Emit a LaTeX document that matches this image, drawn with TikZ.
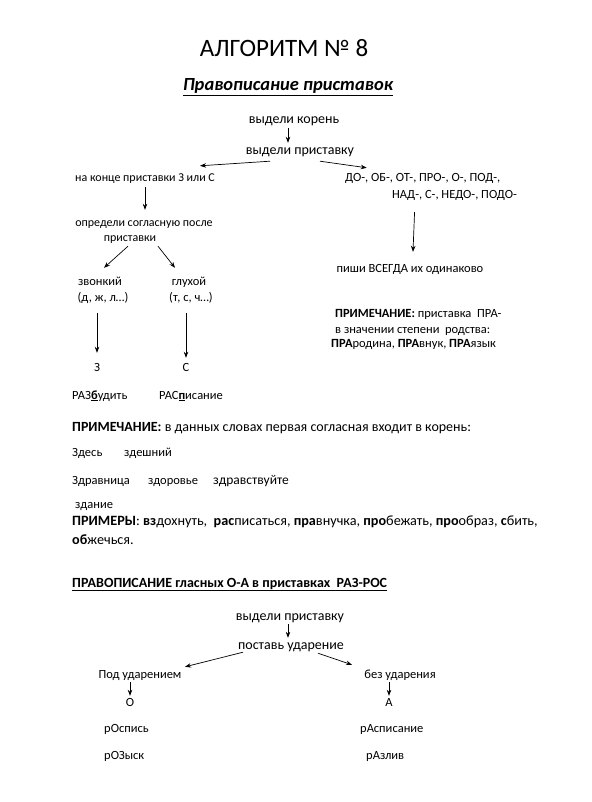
\documentclass[tikz,border=0pt]{standalone}
\usepackage{fontspec}
\setmainfont{Carlito}
\usetikzlibrary{arrows.meta}
\tikzset{
  base/.style={inner sep=0pt, anchor=base, text height=9pt, text depth=3pt},
  big/.style={base, font=\fontsize{14}{16}\selectfont},
  mid/.style={base, font=\fontsize{12.5}{15}\selectfont},
  lbig/.style={big, anchor=base west},
  lmid/.style={mid, anchor=base west},
  arr/.style={-{Stealth[length=6pt,width=4.5pt]}, line width=0.7pt},
}
\begin{document}
\begin{tikzpicture}[x=1pt,y=-1pt]
\useasboundingbox (0,0) rectangle (591,802);
% titles
\node[inner sep=0pt, font=\fontsize{25}{30}\selectfont] (title) at (284,48) {АЛГОРИТМ № 8};
\node[inner sep=0pt, font=\fontsize{18.5}{22}\selectfont\bfseries\itshape] (sub) at (288,87) {\underline{Правописание приставок}};
% top chain
\node[big] (k1) at (294,124) {выдели корень};
\node[big] (k2) at (300,155) {выдели приставку};
\draw[arr] ([shift={(-6,1)}]k1.south) -- ([shift={(-12,-3)}]k2.north);
% branches
\node[mid, font=\fontsize{12}{15}\selectfont] (l1) at (145,182) {на конце приставки З или С};
\node[lmid] (r1a) at (345,182) {ДО-, ОБ-, ОТ-, ПРО-, О-, ПОД-,};
\node[lmid] (r1b) at (392,199) {НАД-, С-, НЕДО-, ПОДО-};
\draw[arr] ([shift={(-30,3)}]k2.south) -- ([shift={(55,-7)}]l1.north);
\draw[arr] ([shift={(20,3)}]k2.south) -- ([shift={(-56,-5)}]r1a.north);
% left chain
\node[mid, font=\fontsize{12}{15}\selectfont] (l2a) at (144,226) {определи согласную после};
\node[mid, font=\fontsize{12}{15}\selectfont] (l2b) at (130,241) {приставки};
\draw[arr] ([shift={(0,2)}]l1.south) -- ([shift={(1,-7)}]l2a.north);
\node[mid] (zv) at (100,285) {звонкий};
\node[mid] (zv2) at (103,301) {(д, ж, л…)};
\node[mid] (gl) at (189,285) {глухой};
\node[mid] (gl2) at (191,301) {(т, с, ч…)};
\draw[arr] ([shift={(-2,2)}]l2b.south) -- ([shift={(4,-8)}]zv.north);
\draw[arr] ([shift={(28,2)}]l2b.south) -- ([shift={(-14,-8)}]gl.north);
\node[mid] (z) at (97,371) {З};
\node[mid] (s) at (186,371) {С};
\draw[arr] ([shift={(-6,9)}]zv2.south) -- ([shift={(0,-9)}]z.north);
\draw[arr] ([shift={(-5,9)}]gl2.south) -- ([shift={(0,-4)}]s.north);
\node[lmid] (ex1) at (72,399) {РАЗ\underline{\textbf{б}}удить};
\node[lmid] (ex2) at (159,399) {РАС\underline{\textbf{п}}исание};
% right chain
\node[mid] (pis) at (410,272) {пиши ВСЕГДА их одинаково};
\draw[arr] ([shift={(-40,10)}]r1b.south) -- ([shift={(3,-11)}]pis.north);
\node[lmid] (n1a) at (335,317) {\textbf{ПРИМЕЧАНИЕ:} приставка\ \ ПРА-};
\node[lmid] (n1b) at (335,333) {в значении степени\ \ родства:};
\node[lmid] (n1c) at (331,347) {\textbf{ПРА}родина, \textbf{ПРА}внук, \textbf{ПРА}язык};
% note 2
\node[lbig] (n2) at (72,431) {\textbf{ПРИМЕЧАНИЕ:} в данных словах первая согласная входит в корень:};
\node[lmid] (w1) at (72,456) {Здесь};
\node[lmid] (w2) at (124,456) {здешний};
\node[lmid] (w3) at (72,484) {Здравница};
\node[lmid] (w4) at (148,484) {здоровье};
\node[lmid, font=\fontsize{13.5}{15}\selectfont] (w5) at (213,484) {здравствуйте};
\node[lmid] (w6) at (75,508) {здание};
\node[lbig, font=\fontsize{14.2}{16}\selectfont] (pr1) at (72,525) {\textbf{ПРИМЕРЫ}: \textbf{вз}дохнуть,\ \ \textbf{рас}писаться, \textbf{пра}внучка, \textbf{про}бежать, \textbf{про}образ, \textbf{с}бить,};
\node[lbig, font=\fontsize{14.2}{16}\selectfont] (pr2) at (72,544) {\textbf{об}жечься.};
% section 2
\node[lbig, font=\fontsize{14}{16}\selectfont\bfseries] (h2) at (72,587) {\underline{ПРАВОПИСАНИЕ гласных О-А в приставках\ \ РАЗ-РОС}};
\node[big] (m1) at (290,620) {выдели приставку};
\node[big] (m2) at (291,649) {поставь ударение};
\draw[arr] ([shift={(-2,1)}]m1.south) -- ([shift={(-3,-2)}]m2.north);
\node[mid] (pu) at (140,678) {Под ударением};
\node[mid] (bu) at (400,678) {без ударения};
\draw[arr] ([shift={(-48,0)}]m2.south) -- ([shift={(45,-2)}]pu.north);
\draw[arr] ([shift={(27,1)}]m2.south) -- ([shift={(-48,-4)}]bu.north);
\node[mid] (o) at (130,706) {О};
\node[mid] (a) at (389,706) {А};
\draw[arr] ([shift={(-10,1)}]pu.south) -- ([shift={(0,-1)}]o.north);
\draw[arr] ([shift={(-11,1)}]bu.south) -- ([shift={(0,-1)}]a.north);
\node[lmid] (e1) at (104,732) {рОспись};
\node[lmid] (e2) at (360,732) {рАсписание};
\node[lmid] (e3) at (104,759) {рОЗыск};
\node[lmid] (e4) at (366,759) {рАзлив};
\end{tikzpicture}
\end{document}
